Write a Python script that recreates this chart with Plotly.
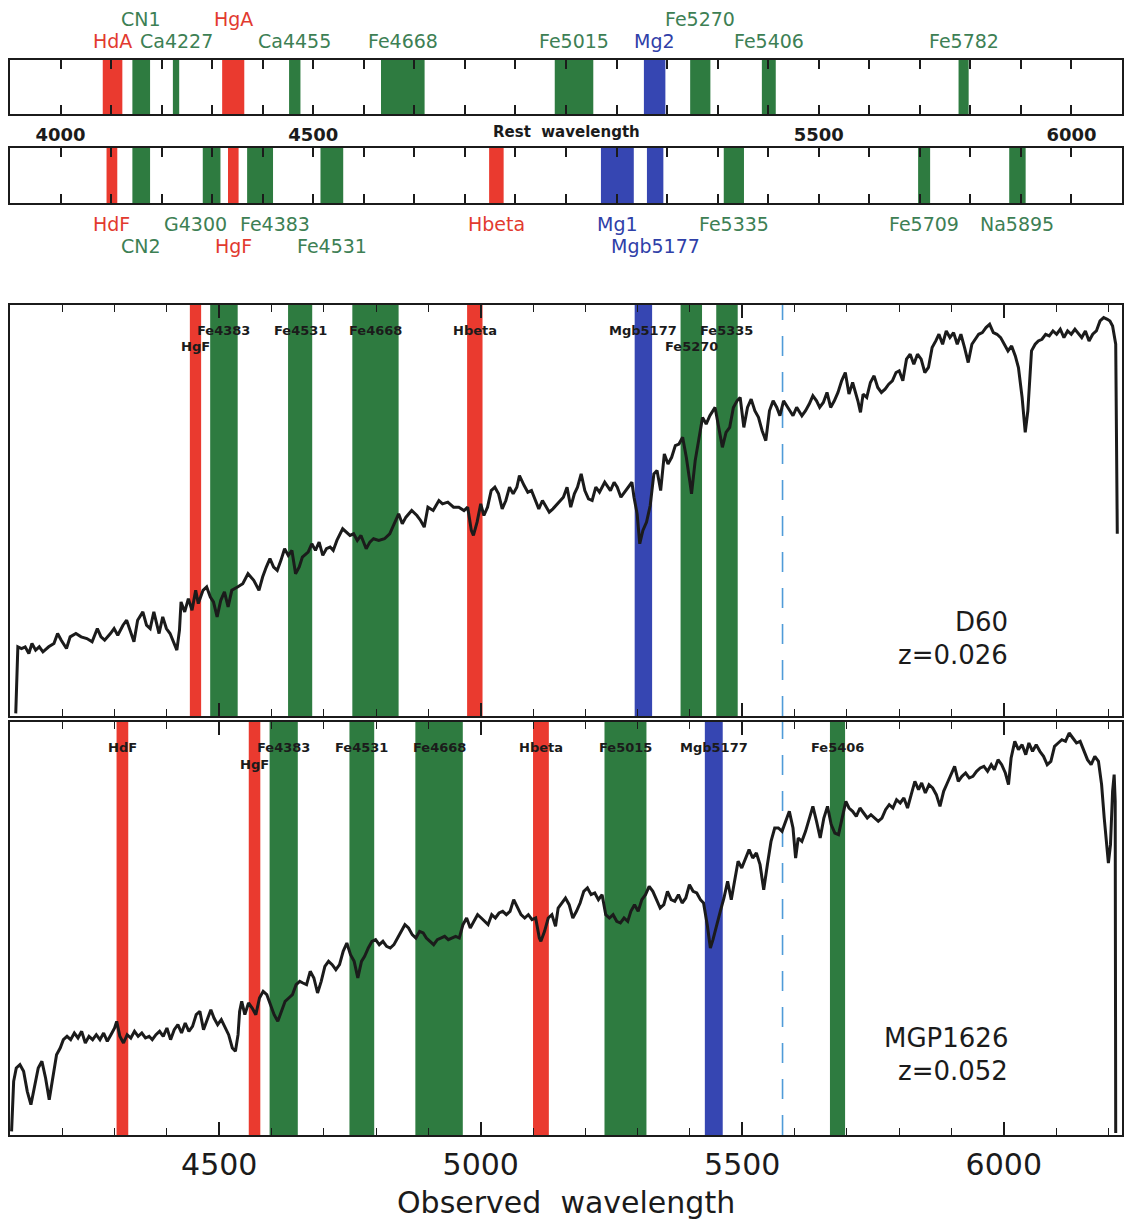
import plotly.graph_objects as go

W, H = 1124, 1221

# ---------------- Lick index central bandpasses (rest frame, Angstrom) ----------------
band_name = ["HdA", "HdF", "CN1", "CN2", "Ca4227", "G4300", "HgA", "HgF", "Fe4383", "Ca4455",
             "Fe4531", "Fe4668", "Hbeta", "Fe5015", "Mg1", "Mg2", "Mgb5177", "Fe5270", "Fe5335",
             "Fe5406", "Fe5709", "Fe5782", "Na5895"]
band_lo = [4083.500, 4091.000, 4142.125, 4142.125, 4222.250, 4281.375, 4319.750, 4331.250, 4369.125, 4452.125,
           4514.250, 4634.000, 4847.875, 4977.750, 5069.125, 5154.125, 5160.125, 5245.650, 5312.125,
           5387.500, 5696.625, 5776.625, 5876.875]
band_hi = [4122.250, 4112.250, 4177.125, 4177.125, 4234.750, 4316.375, 4363.500, 4352.250, 4420.375, 4474.625,
           4559.250, 4720.250, 4876.625, 5054.000, 5134.125, 5196.625, 5192.625, 5285.650, 5352.125,
           5415.000, 5720.375, 5796.625, 5909.375]
band_group = ["balmer", "balmer", "metal", "metal", "metal", "metal", "balmer", "balmer", "metal", "metal",
              "metal", "metal", "balmer", "metal", "mg", "mg", "mg", "metal", "metal",
              "metal", "metal", "metal", "metal"]

# rest-frame reference strips
strip1_names = ["HdA", "CN1", "Ca4227", "HgA", "Ca4455", "Fe4668", "Fe5015", "Mg2", "Fe5270", "Fe5406", "Fe5782"]
strip1_rows = [0, 1, 0, 1, 0, 0, 0, 0, 1, 0, 0]
strip2_names = ["HdF", "CN2", "G4300", "HgF", "Fe4383", "Fe4531", "Hbeta", "Mg1", "Mgb5177", "Fe5335", "Fe5709", "Na5895"]
strip2_rows = [0, 1, 0, 1, 0, 1, 0, 0, 1, 0, 0, 0]
strip2_label_pos = {"G4300": 4267, "Fe4383": 4425}
rest_ticklabels = {4000: "4000", 4500: "4500", 5500: "5500", 6000: "6000"}

# galaxies
galaxy_names = ["D60", "MGP1626"]
galaxy_z = [0.026, 0.052]
d60_bands = ["HgF", "Fe4383", "Fe4531", "Fe4668", "Hbeta", "Mgb5177", "Fe5270", "Fe5335"]
d60_rows = [1, 0, 0, 0, 0, 0, 1, 0]
mgp_bands = ["HdF", "HgF", "Fe4383", "Fe4531", "Fe4668", "Hbeta", "Fe5015", "Mgb5177", "Fe5406"]
mgp_rows = [0, 1, 0, 0, 0, 0, 0, 0, 0]
sky_line = 5577.0

# ---------------- spectra (observed wavelength, relative flux) ----------------
d60_wave = [4111, 4115, 4122, 4129, 4136, 4142, 4149, 4156, 4163, 4174,
            4184, 4191, 4198, 4208, 4215, 4226, 4236, 4247, 4257, 4267,
            4274, 4281, 4292, 4299, 4306, 4316, 4323, 4330, 4337, 4344,
            4354, 4361, 4368, 4375, 4385, 4392, 4399, 4406, 4413, 4419,
            4424, 4427, 4434, 4441, 4448, 4455, 4460, 4469, 4476, 4483,
            4489, 4496, 4503, 4510, 4517, 4524, 4535, 4545, 4555, 4566,
            4576, 4583, 4590, 4597, 4604, 4611, 4618, 4625, 4632, 4639,
            4646, 4653, 4659, 4670, 4677, 4684, 4691, 4698, 4705, 4712,
            4718, 4725, 4736, 4743, 4750, 4757, 4764, 4771, 4781, 4788,
            4795, 4805, 4816, 4826, 4836, 4843, 4850, 4857, 4868, 4878,
            4885, 4892, 4899, 4909, 4920, 4927, 4937, 4948, 4958, 4968,
            4975, 4982, 4986, 4993, 5000, 5006, 5013, 5020, 5027, 5034,
            5041, 5048, 5055, 5062, 5069, 5074, 5083, 5090, 5097, 5104,
            5111, 5118, 5124, 5131, 5138,
            5151, 5158, 5165, 5172, 5179, 5185, 5192, 5199, 5206, 5213,
            5220, 5227, 5237, 5248, 5255, 5261, 5268, 5275, 5282, 5289,
            5293, 5299, 5304, 5310, 5317, 5324, 5331, 5337, 5344, 5351,
            5358, 5365, 5372, 5379, 5386, 5393, 5400, 5403, 5410, 5417,
            5424, 5431, 5438, 5448, 5455, 5462, 5469, 5476, 5483, 5490,
            5496, 5503, 5510, 5517, 5524, 5531, 5538, 5545, 5552, 5559,
            5566, 5572, 5579, 5590, 5597, 5604, 5614, 5621, 5628, 5635,
            5642, 5648, 5655, 5662, 5669, 5676, 5683, 5690, 5697, 5704,
            5711, 5721, 5726, 5731, 5738, 5745, 5752, 5759, 5766, 5773,
            5780, 5787, 5794, 5800, 5807, 5814, 5821, 5828, 5835, 5842,
            5849, 5856, 5863, 5870, 5876, 5883, 5890, 5897, 5904, 5911,
            5918, 5925, 5932, 5939, 5946, 5952, 5959, 5966, 5973, 5980,
            5987, 5994, 6001, 6008, 6015, 6022, 6028, 6035, 6041, 6046,
            6053, 6060, 6066, 6073, 6080, 6087, 6094, 6101, 6108, 6115,
            6122, 6129, 6136, 6143, 6149, 6156, 6163, 6170, 6177, 6184,
            6191, 6198, 6203, 6208, 6214, 6217]
d60_flux = [0.5, 20.5, 20.0, 20.5, 18.5, 21.5, 19.5, 20.5, 19.0, 20.5,
            21.5, 24.5, 22.5, 20.0, 23.5, 24.5, 23.5, 23.0, 22.0, 26.0,
            23.5, 22.5, 24.5, 26.0, 24.0, 27.0, 28.5, 25.5, 22.0, 28.5,
            31.0, 27.0, 26.0, 31.0, 24.5, 29.5, 26.0, 24.5, 21.5, 19.5,
            25.5, 34.0, 31.0, 35.0, 31.5, 37.5, 33.5, 37.5, 38.5, 35.5,
            34.0, 29.5, 34.5, 37.0, 32.5, 37.5, 38.5, 39.5, 42.5, 40.5,
            37.5, 41.5, 44.5, 47.0, 44.5, 43.5, 46.5, 50.0, 48.0, 49.5,
            42.5, 44.5, 47.5, 49.0, 51.5, 49.5, 52.0, 48.0, 50.0, 50.5,
            49.5, 52.5, 56.0, 55.0, 54.0, 54.5, 52.5, 54.0, 50.0, 52.0,
            53.0, 52.5, 53.0, 54.5, 58.0, 60.5, 57.5, 59.5, 61.5, 60.0,
            58.5, 56.5, 62.5, 61.5, 64.5, 63.5, 64.0, 62.5, 62.5, 61.5,
            62.5, 55.5, 54.0, 58.0, 63.5, 60.0, 62.5, 67.5, 68.5, 66.5,
            62.0, 64.5, 68.5, 66.5, 68.5, 72.0, 69.0, 67.0, 67.5, 64.5,
            62.0, 64.5, 63.0, 61.0, 62.0,
            64.5, 65.5, 68.5, 62.5, 66.5, 68.5, 72.5, 67.5, 65.0, 64.5,
            68.5, 67.0, 70.0, 67.5, 70.0, 68.5, 65.5, 67.0, 68.5, 70.0,
            65.5, 60.5, 51.5, 55.5, 58.0, 63.0, 72.5, 73.5, 67.5, 78.5,
            75.5, 77.5, 81.0, 81.5, 83.5, 77.5, 70.0, 66.5, 76.5, 83.5,
            89.5, 87.5, 90.0, 92.5, 86.5, 80.5, 85.0, 86.5, 92.5, 94.5,
            95.5, 86.5, 92.5, 95.0, 91.5, 89.5, 85.5, 82.5, 91.5, 94.5,
            92.5, 90.0, 94.5, 91.5, 90.0, 92.5, 90.0, 91.5, 93.5, 96.0,
            94.5, 92.5, 94.0, 97.0, 92.5, 94.5, 97.0, 100.5, 103.0, 96.5,
            100.0, 94.5, 91.0, 96.5, 95.5, 100.0, 102.0, 98.5, 97.0, 98.0,
            99.5, 100.5, 103.0, 103.5, 100.5, 107.0, 108.5, 105.5, 108.5, 107.0,
            103.0, 104.5, 110.5, 112.5, 114.5, 111.5, 115.5, 113.5, 115.0, 111.5,
            114.5, 110.5, 106.0, 111.5, 113.0, 114.5, 115.0, 116.5, 117.5, 115.0,
            114.5, 113.5, 111.5, 109.5, 111.0, 108.0, 104.5, 95.5, 85.0, 91.5,
            109.5, 111.5, 112.5, 113.0, 114.5, 114.0, 115.5, 114.5, 116.0, 113.5,
            115.5, 114.5, 116.0, 114.5, 113.5, 115.5, 112.5, 114.5, 115.5, 118.5,
            119.5, 119.0, 118.5, 117.0, 111.5, 54.5]

mgp_wave = [4103, 4107, 4112, 4119, 4126, 4133, 4140, 4147, 4154, 4161,
            4168, 4175, 4182, 4189, 4196, 4202, 4209, 4216, 4223, 4230,
            4237, 4244, 4251, 4258, 4265, 4272, 4279, 4286, 4293, 4300,
            4304, 4310, 4317, 4324, 4331, 4338, 4345, 4352, 4359, 4366,
            4372, 4379, 4386, 4393, 4400, 4407, 4414, 4421, 4428, 4435,
            4442, 4449, 4456, 4463, 4470, 4477, 4484, 4490, 4497, 4504,
            4511, 4518, 4525, 4531, 4536, 4539, 4543, 4549, 4556, 4563,
            4570, 4577, 4584, 4591, 4598, 4605, 4612, 4619, 4626, 4633,
            4640, 4647, 4654, 4660, 4667, 4674, 4681, 4688, 4695, 4702,
            4709, 4716, 4723, 4730, 4737, 4744, 4751, 4758, 4765, 4772,
            4778, 4785, 4792, 4799, 4806, 4813, 4820, 4827, 4834, 4841,
            4848, 4855, 4862, 4869, 4876, 4883, 4890, 4896, 4903, 4910,
            4917, 4924, 4931, 4938, 4945, 4952, 4959, 4966, 4973, 4980,
            4987, 4994, 5001, 5007, 5014, 5021, 5028, 5035, 5042, 5049,
            5056, 5063, 5070, 5077, 5084, 5091, 5098, 5105, 5112, 5115,
            5122, 5129, 5136, 5143,
            5148, 5155, 5162, 5169, 5176, 5183, 5190, 5197, 5204, 5211,
            5218, 5225, 5232, 5239, 5246, 5253, 5260, 5267, 5274, 5281,
            5287, 5294, 5301, 5308, 5315, 5322, 5329, 5336, 5343, 5350,
            5357, 5364, 5371, 5378, 5385, 5392, 5399, 5406, 5413, 5420,
            5426, 5433, 5439, 5444, 5451, 5458, 5465, 5472, 5479, 5486,
            5492, 5499, 5506, 5513, 5520, 5527, 5534, 5541, 5548, 5555,
            5562, 5569, 5576, 5583, 5590, 5597, 5602, 5607, 5614, 5621,
            5628, 5635, 5642, 5649, 5656, 5663, 5670, 5677, 5684, 5691,
            5698, 5704, 5711, 5718, 5725, 5732, 5739, 5746, 5753, 5760,
            5767, 5774, 5781, 5788, 5795, 5802, 5809, 5816, 5823, 5830,
            5837, 5843, 5850, 5857, 5864, 5871, 5878, 5885, 5892, 5899,
            5906, 5913, 5920, 5927, 5934, 5941, 5948, 5955, 5962, 5969,
            5976, 5982, 5989, 5996, 6003, 6009, 6014, 6021, 6028, 6035,
            6042, 6048, 6055, 6062, 6069, 6076, 6083, 6090, 6097, 6104,
            6111, 6118, 6125, 6132, 6139, 6146, 6153, 6160, 6167, 6174,
            6181, 6187, 6192, 6197, 6200, 6204, 6208, 6211, 6213, 6214]
mgp_flux = [0.5, 15.5, 19.5, 20.5, 18.5, 12.5, 8.5, 14.5, 19.5, 21.5,
            16.5, 10.0, 17.5, 23.5, 25.5, 28.0, 29.0, 28.0, 30.0, 28.5,
            30.5, 27.0, 29.0, 28.0, 29.5, 28.0, 30.0, 27.5, 29.5, 31.5,
            33.5, 29.0, 27.0, 29.5, 28.5, 30.5, 29.0, 30.0, 28.5, 29.0,
            28.0, 29.5, 30.5, 29.0, 31.5, 28.0, 31.0, 32.5, 30.0, 33.0,
            30.5, 32.0, 35.5, 36.5, 31.0, 34.0, 37.0, 34.5, 32.5, 34.0,
            31.5, 29.5, 25.5, 24.5, 29.5, 36.5, 39.5, 35.5, 39.0, 37.5,
            35.5, 40.5, 42.5, 41.5, 38.5, 35.5, 33.5, 36.5, 39.5, 40.5,
            41.5, 44.5, 45.5, 45.0, 44.5, 48.5, 46.5, 42.0, 45.5, 50.0,
            51.5, 50.5, 49.0, 50.5, 54.5, 57.0, 53.5, 51.5, 46.5, 51.5,
            53.0, 55.5, 57.5, 58.0, 56.5, 57.5, 56.0, 55.5, 56.5, 58.5,
            60.5, 62.5, 61.5, 59.5, 58.5, 60.5, 60.0, 58.5, 57.5, 56.5,
            58.0, 58.5, 59.0, 58.0, 58.5, 59.0, 58.5, 62.5, 64.5, 61.5,
            63.5, 65.5, 64.5, 63.5, 62.5, 65.5, 64.5, 66.0, 66.5, 65.5,
            66.5, 70.0, 67.5, 65.5, 64.5, 65.5, 64.0, 64.5, 58.5, 57.5,
            60.5, 64.5, 65.5, 62.0,
            67.5, 69.0, 70.5, 68.5, 64.5, 66.5, 69.0, 72.5, 73.5, 71.5,
            72.0, 70.0, 71.5, 65.5, 64.5, 65.5, 63.5, 63.0, 64.5, 63.5,
            66.5, 68.5, 66.5, 70.0, 71.5, 74.0, 72.5, 70.0, 67.5, 68.5,
            72.5, 70.0, 69.5, 71.5, 69.0, 70.5, 74.5, 72.5, 72.0, 70.0,
            69.0, 62.5, 55.5, 58.0, 62.5, 66.5, 70.5, 75.5, 70.0, 76.5,
            81.5, 79.5, 82.5, 85.0, 82.5, 84.0, 80.5, 73.0, 80.5, 87.5,
            91.5, 91.5, 90.5, 93.5, 96.5, 91.5, 82.5, 88.5, 87.5, 90.5,
            94.5, 98.0, 93.5, 88.5, 94.5, 98.0, 92.5, 90.0, 89.5, 94.5,
            99.5, 97.5, 96.5, 95.0, 97.5, 96.0, 94.5, 95.5, 94.5, 93.5,
            94.5, 97.0, 98.5, 97.5, 100.0, 99.0, 100.5, 97.5, 101.5, 105.5,
            103.0, 105.0, 102.0, 104.5, 103.5, 101.5, 98.0, 102.5, 105.0, 107.5,
            110.0, 105.5, 107.0, 108.0, 106.5, 107.0, 108.5, 109.5, 110.0, 108.5,
            110.5, 109.0, 112.0, 110.5, 108.0, 104.5, 112.5, 117.5, 115.0, 116.5,
            113.5, 117.0, 114.5, 116.5, 114.5, 113.0, 110.5, 111.5, 116.0, 117.0,
            118.0, 117.5, 120.0, 118.5, 117.0, 117.5, 114.5, 112.0, 110.5, 113.0,
            111.5, 104.5, 94.5, 84.5, 81.0, 86.5, 102.5, 107.5, 99.5, 0.0]

# ---------------- styling ----------------
fill_color = {"balmer": "#ea3a2f", "metal": "#2e7b40", "mg": "#3646b2"}
text_color = {"balmer": "#e23a2f", "metal": "#3d8054", "mg": "#2f40a8"}
INK = "#1b1b1b"
FONT = "DejaVu Sans"

band_index = {n: i for i, n in enumerate(band_name)}


def px(x_page):
    return x_page / W


def py(y_page):
    return 1 - y_page / H


XDOM = [px(10), px(1122)]
REST_RANGE = [3900, 6100]
OBS_RANGE = [4100, 6226]

# panel boxes in page pixels (top, bottom)
P1 = (60, 114)
P2 = (148, 203)
P3 = (305, 716)
P4 = (722, 1135)

fig = go.Figure()

spectra = [(d60_wave, d60_flux, "x3", "y3"), (mgp_wave, mgp_flux, "x4", "y4")]
for wv, fl, xa, ya in spectra:
    fig.add_trace(go.Scatter(x=wv, y=fl, xaxis=xa, yaxis=ya, mode="lines",
                             line=dict(color=INK, width=3), hoverinfo="skip", showlegend=False))

shapes = []
annotations = []

# rest-frame strips
for names, rows, xa, ya, row_y in [(strip1_names, strip1_rows, "x", "y", (41, 19)),
                                    (strip2_names, strip2_rows, "x2", "y2", (224, 246))]:
    for n, r in zip(names, rows):
        i = band_index[n]
        g = band_group[i]
        shapes.append(dict(type="rect", xref=xa, yref=ya + " domain", x0=band_lo[i], x1=band_hi[i],
                           y0=0, y1=1, fillcolor=fill_color[g], line=dict(width=0), layer="below"))
        center = 0.5 * (band_lo[i] + band_hi[i])
        xl = strip2_label_pos.get(n, center) if xa == "x2" else center
        annotations.append(dict(x=xl, xref=xa, y=py(row_y[r]), yref="paper", text=n, showarrow=False,
                                xanchor="center", yanchor="middle",
                                font=dict(family=FONT, size=19, color=text_color[g])))

annotations.append(dict(x=5000, xref="x", y=py(132), yref="paper", text="Rest  wavelength", showarrow=False,
                        xanchor="center", yanchor="middle",
                        font=dict(family=FONT, size=15, color=INK, weight="bold")))

# observed-frame panels
for (bands, rows, z, xa, ya, box, gname) in [(d60_bands, d60_rows, galaxy_z[0], "x3", "y3", P3, galaxy_names[0]),
                                               (mgp_bands, mgp_rows, galaxy_z[1], "x4", "y4", P4, galaxy_names[1])]:
    for n, r in zip(bands, rows):
        i = band_index[n]
        g = band_group[i]
        lo, hi = band_lo[i] * (1 + z), band_hi[i] * (1 + z)
        shapes.append(dict(type="rect", xref=xa, yref=ya + " domain", x0=lo, x1=hi, y0=0, y1=1,
                           fillcolor=fill_color[g], line=dict(width=0), layer="below"))
        annotations.append(dict(x=0.5 * (lo + hi), xref=xa, y=py(box[0] + (25 if r == 0 else 42)), yref="paper",
                                text=n, showarrow=False, xanchor="center", yanchor="middle",
                                font=dict(family=FONT, size=13, color=INK, weight="bold")))
    shapes.append(dict(type="line", xref=xa, yref=ya + " domain", x0=sky_line, x1=sky_line, y0=0, y1=1,
                       line=dict(color="#4f9bd8", width=1.6, dash="20px,16px"), layer="below"))
    base = box[1] - 94 if gname == "D60" else box[1] - 97
    annotations.append(dict(x=px(1010), xref="paper", y=py(base), yref="paper", text=gname, showarrow=False,
                            xanchor="right", yanchor="middle", font=dict(family=FONT, size=26, color=INK)))
    annotations.append(dict(x=px(1010), xref="paper", y=py(base + 33), yref="paper", text="z=%.3f" % z,
                            showarrow=False, xanchor="right", yanchor="middle",
                            font=dict(family=FONT, size=26, color=INK)))

annotations.append(dict(x=0.5 * (XDOM[0] + XDOM[1]), xref="paper", y=py(1202), yref="paper",
                        text="Observed  wavelength", showarrow=False, xanchor="center", yanchor="middle",
                        font=dict(family=FONT, size=30, color=INK)))

rest_ticks = list(range(4000, 6001, 100))
rest_text = [rest_ticklabels.get(t, "") for t in rest_ticks]

frame = dict(showline=True, linecolor=INK, linewidth=1.8, showgrid=False, zeroline=False, fixedrange=True)

layout = dict(
    width=W, height=H, autosize=False, margin=dict(l=0, r=0, t=0, b=0),
    paper_bgcolor="white", plot_bgcolor="white", showlegend=False,
    shapes=shapes, annotations=annotations,
    xaxis=dict(domain=XDOM, range=REST_RANGE, anchor="y", tickmode="array", tickvals=rest_ticks,
               ticktext=rest_text, ticks="inside", ticklen=9, tickwidth=1.6, tickcolor=INK, mirror="ticks",
               ticklabelstandoff=3, tickfont=dict(family=FONT, size=18, color=INK, weight="bold"), **frame),
    yaxis=dict(domain=[py(P1[1]), py(P1[0])], range=[0, 1], anchor="x", showticklabels=False, ticks="",
               mirror=True, **frame),
    xaxis2=dict(domain=XDOM, range=REST_RANGE, anchor="y2", tickmode="array", tickvals=rest_ticks,
                showticklabels=False, ticks="inside", ticklen=9, tickwidth=1.6, tickcolor=INK, mirror="ticks",
                **frame),
    yaxis2=dict(domain=[py(P2[1]), py(P2[0])], range=[0, 1], anchor="x2", showticklabels=False, ticks="",
                mirror=True, **frame),
    xaxis3=dict(domain=XDOM, range=OBS_RANGE, anchor="y3", tick0=0, dtick=500, showticklabels=False,
                ticks="inside", ticklen=13, tickwidth=1.6, tickcolor=INK, mirror="ticks",
                minor=dict(dtick=100, tick0=0, ticks="inside", ticklen=7, tickwidth=1.4, tickcolor=INK), **frame),
    yaxis3=dict(domain=[py(P3[1]), py(P3[0])], range=[-0.3, 123.3], anchor="x3", showticklabels=False,
                ticks="", mirror=True, **frame),
    xaxis4=dict(domain=XDOM, range=OBS_RANGE, anchor="y4", tick0=0, dtick=500, showticklabels=True,
                ticks="inside", ticklen=13, tickwidth=1.6, tickcolor=INK, mirror="ticks", ticklabelstandoff=2,
                tickfont=dict(family=FONT, size=30, color=INK),
                minor=dict(dtick=100, tick0=0, ticks="inside", ticklen=7, tickwidth=1.4, tickcolor=INK), **frame),
    yaxis4=dict(domain=[py(P4[1]), py(P4[0])], range=[-0.6, 123.3], anchor="x4", showticklabels=False,
                ticks="", mirror=True, **frame),
)
fig.update_layout(**layout)
fig.write_html(
    "out.html",
    config={"responsive": False, "displayModeBar": False},
    post_script="document.body.style.margin='0';document.body.style.padding='0';"
                "document.body.style.overflow='hidden';",
)
